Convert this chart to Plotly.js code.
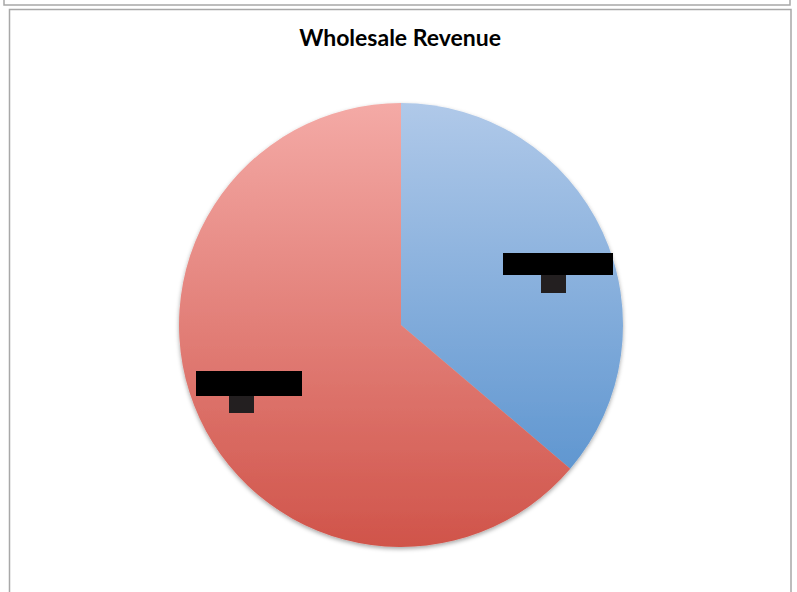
<!DOCTYPE html>
<html>
<head>
<meta charset="utf-8">
<script src="https://cdn.plot.ly/plotly-3.0.1.min.js"></script>
<style>
html,body{margin:0;padding:0;background:#fff;}
#chart{width:797px;height:592px;}
</style>
</head>
<body>
<div id="chart"></div>
<script>
// Data (labels are redacted in the reference)
var categories = ["Segment A", "Segment B"];
var values = [36.2, 63.8];
var percentLabels = ["36%", "64%"];
var chartTitle = "Wholesale Revenue";

var W = 797, H = 592;
function px(x){ return x / W; }
function py(y){ return 1 - y / H; }

var trace = {
  type: "pie",
  labels: categories,
  values: values,
  sort: false,
  direction: "clockwise",
  rotation: 0,
  textinfo: "none",
  hoverinfo: "label+percent",
  marker: { colors: ["#7fa7d9", "#e27a72"], line: { width: 0 } },
  domain: { x: [px(179), px(623)], y: [py(547), py(103)] },
  showlegend: false
};

var lineStyle = { color: "#a8a8a8", width: 1.5 };
var shapes = [
  { type: "rect", xref: "paper", yref: "paper", x0: px(4), x1: px(790), y0: py(5), y1: py(-20), line: lineStyle },
  { type: "rect", xref: "paper", yref: "paper", x0: px(9.5), x1: px(791), y0: py(600), y1: py(9.5), line: lineStyle }
];

function redactBox(cx, cy, w, h, txt, color) {
  return { xref: "paper", yref: "paper", x: px(cx), y: py(cy), text: txt, showarrow: false,
    width: w, height: h, bgcolor: color, borderpad: 0, borderwidth: 0,
    font: { color: color, size: 12, family: "Liberation Sans" }, xanchor: "center", yanchor: "middle" };
}

var annotations = [
  redactBox(558, 264, 110, 22, categories[0], "#000000"),
  redactBox(553.5, 284, 25, 18, percentLabels[0], "#231f20"),
  redactBox(249, 383.5, 106, 25, categories[1], "#000000"),
  redactBox(241.5, 404.5, 25, 17, percentLabels[1], "#231f20")
];

var layout = {
  width: W, height: H,
  margin: { l: 0, r: 0, t: 0, b: 0 },
  paper_bgcolor: "#ffffff",
  title: { text: "<b>" + chartTitle + "</b>", x: 0.502, xanchor: "center", y: py(38), yanchor: "middle",
           font: { family: "Lato, 'Open Sans', sans-serif", size: 23, color: "#000000" } },
  shapes: shapes,
  annotations: annotations
};

Plotly.newPlot("chart", [trace], layout, { displayModeBar: false, staticPlot: true }).then(function(gd){
  // Add vertical gradients to the slices, like the original
  var svg = gd.querySelector("svg.main-svg");
  var ns = "http://www.w3.org/2000/svg";
  var defs = svg.querySelector("defs") || svg.insertBefore(document.createElementNS(ns, "defs"), svg.firstChild);
  var grads = [
    { id: "gBlue", c1: "#b0c9e9", c2: "#4f8ccb" },
    { id: "gRed", c1: "#f4aaa6", c2: "#d0544a" }
  ];
  grads.forEach(function(g){
    var lg = document.createElementNS(ns, "linearGradient");
    lg.setAttribute("id", g.id);
    lg.setAttribute("gradientUnits", "userSpaceOnUse");
    lg.setAttribute("x1", "0"); lg.setAttribute("x2", "0");
    lg.setAttribute("y1", "103"); lg.setAttribute("y2", "547");
    var s1 = document.createElementNS(ns, "stop"); s1.setAttribute("offset", "0"); s1.setAttribute("stop-color", g.c1);
    var s2 = document.createElementNS(ns, "stop"); s2.setAttribute("offset", "1"); s2.setAttribute("stop-color", g.c2);
    lg.appendChild(s1); lg.appendChild(s2); defs.appendChild(lg);
  });
  var f = document.createElementNS(ns, "filter");
  f.setAttribute("id", "pieShadow"); f.setAttribute("x", "-10%"); f.setAttribute("y", "-10%");
  f.setAttribute("width", "120%"); f.setAttribute("height", "120%");
  f.innerHTML = '<feDropShadow dx="0" dy="2" stdDeviation="2" flood-color="#000" flood-opacity="0.35"/>';
  defs.appendChild(f);
  var slices = gd.querySelectorAll("g.slice path.surface");
  slices.forEach(function(p, i){
    p.style.fill = "url(#" + grads[i % 2].id + ")";
  });
  var pieLayer = gd.querySelector("g.pielayer");
  if (pieLayer) pieLayer.setAttribute("filter", "url(#pieShadow)");
  slices.forEach(function(p){
    var g = p.closest("g.trace");
    var t = g ? g.getAttribute("transform") : null;
    var m = t && t.match(/translate\(([-\d.]+),\s*([-\d.]+)\)/);
    if (m) {
      var dy = parseFloat(m[2]);
      grads.forEach(function(gr){
        var el = document.getElementById(gr.id);
        el.setAttribute("y1", String(103 - dy)); el.setAttribute("y2", String(547 - dy));
      });
    }
  });
});
</script>
</body>
</html>
